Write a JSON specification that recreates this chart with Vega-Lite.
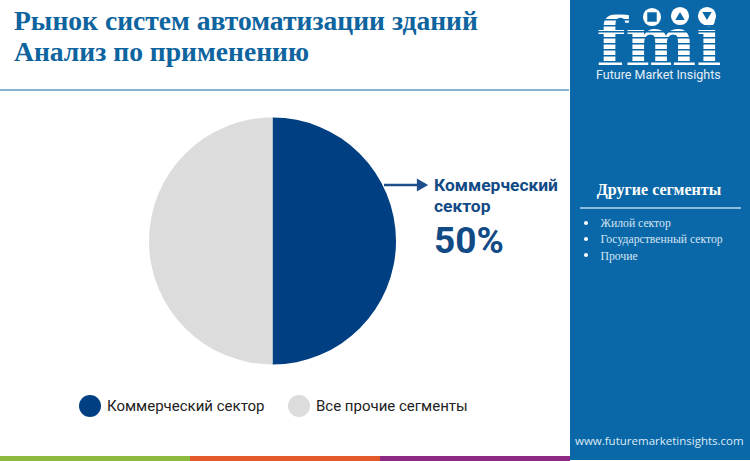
{
  "$schema": "https://vega.github.io/schema/vega-lite/v6.json",
  "description": "Building automation systems market, share by application",
  "autosize": "none",
  "width": 545,
  "height": 440,
  "padding": {"left": 0, "top": 21, "right": 205, "bottom": 0},
  "background": "white",
  "config": {"view": {"stroke": null}},
  "data": {"values": [{}]},
  "title": {
    "text": ["Рынок систем автоматизации зданий", "Анализ по применению"],
    "anchor": "start",
    "frame": "group",
    "orient": "top",
    "baseline": "alphabetic",
    "dx": 14,
    "dy": 143,
    "offset": 0,
    "font": "Liberation Serif",
    "fontSize": 27.6,
    "fontWeight": "bold",
    "lineHeight": 31,
    "color": "#0e649e"
  },
  "layer": [
    {
      "data": {"values": [
        {"segment": "Коммерческий сектор", "share": 50, "rank": 1},
        {"segment": "Все прочие сегменты", "share": 50, "rank": 2}
      ]},
      "mark": {"type": "arc", "outerRadius": 123.5, "innerRadius": 0},
      "encoding": {
        "theta": {"field": "share", "type": "quantitative", "stack": true},
        "order": {"field": "rank", "type": "quantitative"},
        "color": {
          "field": "segment",
          "type": "nominal",
          "sort": ["Коммерческий сектор", "Все прочие сегменты"],
          "scale": {"domain": ["Коммерческий сектор", "Все прочие сегменты"], "range": ["#003f82", "#dcdcdc"]},
          "legend": {
            "title": null,
            "orient": "none",
            "direction": "horizontal",
            "legendX": 79,
            "legendY": 374,
            "symbolType": "circle",
            "symbolSize": 484,
            "symbolStrokeWidth": 0,
            "symbolOpacity": 1,
            "labelFont": "Roboto",
            "labelFontSize": 15,
            "labelColor": "#222222",
            "labelOffset": 6,
            "labelLimit": 200,
            "columnPadding": 23
          }
        }
      }
    },
    {
      "mark": {"type": "rule", "color": "#85b1d2", "strokeWidth": 2},
      "encoding": {"x": {"value": 0}, "x2": {"value": 569}, "y": {"value": 69}}
    },
    {
      "mark": {"type": "rule", "color": "#1f4f8a", "strokeWidth": 2.5},
      "encoding": {"x": {"value": 384}, "x2": {"value": 420}, "y": {"value": 164}}
    },
    {
      "mark": {"type": "point", "shape": "triangle-right", "filled": true, "color": "#1f4f8a", "opacity": 1, "size": 170},
      "encoding": {"x": {"value": 422.5}, "y": {"value": 164}}
    },
    {
      "mark": {"type": "text", "align": "left", "baseline": "alphabetic", "font": "Roboto", "fontWeight": "bold", "fontSize": 17.4, "lineHeight": 21, "color": "#124a86", "text": ["Коммерческий", "сектор"]},
      "encoding": {"x": {"value": 434}, "y": {"value": 170}}
    },
    {
      "mark": {"type": "text", "align": "left", "baseline": "alphabetic", "font": "Roboto", "fontWeight": "bold", "fontSize": 37, "color": "#124a86", "text": "50%"},
      "encoding": {"x": {"value": 434}, "y": {"value": 232}}
    },
    {
      "mark": {"type": "rect", "color": "#0b68a8", "clip": false},
      "encoding": {"x": {"value": 570}, "x2": {"value": 750}, "y": {"value": -21}, "y2": {"value": 439}}
    },
    {
      "mark": {"type": "rect", "color": "#8dbb3f"},
      "encoding": {"x": {"value": 0}, "x2": {"value": 190}, "y": {"value": 435}, "y2": {"value": 440}}
    },
    {
      "mark": {"type": "rect", "color": "#e3592a"},
      "encoding": {"x": {"value": 190}, "x2": {"value": 380}, "y": {"value": 435}, "y2": {"value": 440}}
    },
    {
      "mark": {"type": "rect", "color": "#8c2a84"},
      "encoding": {"x": {"value": 380}, "x2": {"value": 570}, "y": {"value": 435}, "y2": {"value": 440}}
    },
    {
      "mark": {"type": "text", "align": "center", "baseline": "alphabetic", "font": "DejaVu Serif", "fontWeight": "bold", "fontSize": 67, "color": "white", "text": "fmi"},
      "encoding": {"x": {"value": 659}, "y": {"value": 44}}
    },
    {
      "mark": {"type": "rule", "color": "#0b68a8", "strokeWidth": 135, "strokeDash": [1.5, 4.5]},
      "encoding": {"x": {"value": 660}, "y": {"value": -8}, "y2": {"value": 44}}
    },
    {
      "mark": {"type": "point", "filled": true, "shape": "circle", "color": "white", "opacity": 1, "size": 330},
      "encoding": {"x": {"value": 652}, "y": {"value": -4}}
    },
    {
      "mark": {"type": "point", "filled": true, "shape": "circle", "color": "white", "opacity": 1, "size": 330},
      "encoding": {"x": {"value": 680}, "y": {"value": -5}}
    },
    {
      "mark": {"type": "point", "filled": true, "shape": "circle", "color": "white", "opacity": 1, "size": 330},
      "encoding": {"x": {"value": 707}, "y": {"value": -5}}
    },
    {
      "mark": {"type": "point", "filled": true, "shape": "square", "color": "#0b68a8", "opacity": 1, "size": 90},
      "encoding": {"x": {"value": 652}, "y": {"value": -4}}
    },
    {
      "mark": {"type": "point", "filled": true, "shape": "triangle-up", "color": "#0b68a8", "opacity": 1, "size": 90},
      "encoding": {"x": {"value": 680}, "y": {"value": -5}}
    },
    {
      "mark": {"type": "point", "filled": true, "shape": "triangle-down", "color": "#0b68a8", "opacity": 1, "size": 90},
      "encoding": {"x": {"value": 707}, "y": {"value": -5}}
    },
    {
      "mark": {"type": "text", "align": "left", "baseline": "alphabetic", "font": "Roboto", "fontSize": 12.5, "color": "#e3eef6", "text": "Future Market Insights"},
      "encoding": {"x": {"value": 596}, "y": {"value": 58}}
    },
    {
      "mark": {"type": "text", "align": "center", "baseline": "alphabetic", "font": "Liberation Serif", "fontWeight": "bold", "fontSize": 16, "color": "white", "text": "Другие сегменты"},
      "encoding": {"x": {"value": 659}, "y": {"value": 174}}
    },
    {
      "mark": {"type": "rule", "color": "#8fbbe0", "strokeWidth": 2},
      "encoding": {"x": {"value": 580}, "x2": {"value": 741}, "y": {"value": 187}}
    },
    {
      "mark": {"type": "text", "align": "left", "baseline": "alphabetic", "font": "Liberation Serif", "fontSize": 11.7, "lineHeight": 16.3, "color": "#d5e5f2", "text": ["Жилой сектор", "Государственный сектор", "Прочие"]},
      "encoding": {"x": {"value": 600.5}, "y": {"value": 206}}
    },
    {
      "mark": {"type": "point", "filled": true, "shape": "circle", "color": "white", "opacity": 1, "size": 16},
      "encoding": {"x": {"value": 586}, "y": {"value": 202}}
    },
    {
      "mark": {"type": "point", "filled": true, "shape": "circle", "color": "white", "opacity": 1, "size": 16},
      "encoding": {"x": {"value": 586}, "y": {"value": 218}}
    },
    {
      "mark": {"type": "point", "filled": true, "shape": "circle", "color": "white", "opacity": 1, "size": 16},
      "encoding": {"x": {"value": 586}, "y": {"value": 234}}
    },
    {
      "mark": {"type": "text", "align": "left", "baseline": "alphabetic", "font": "Open Sans", "fontSize": 11.5, "color": "#dcebf5", "text": "www.futuremarketinsights.com"},
      "encoding": {"x": {"value": 575}, "y": {"value": 424}}
    }
  ]
}
